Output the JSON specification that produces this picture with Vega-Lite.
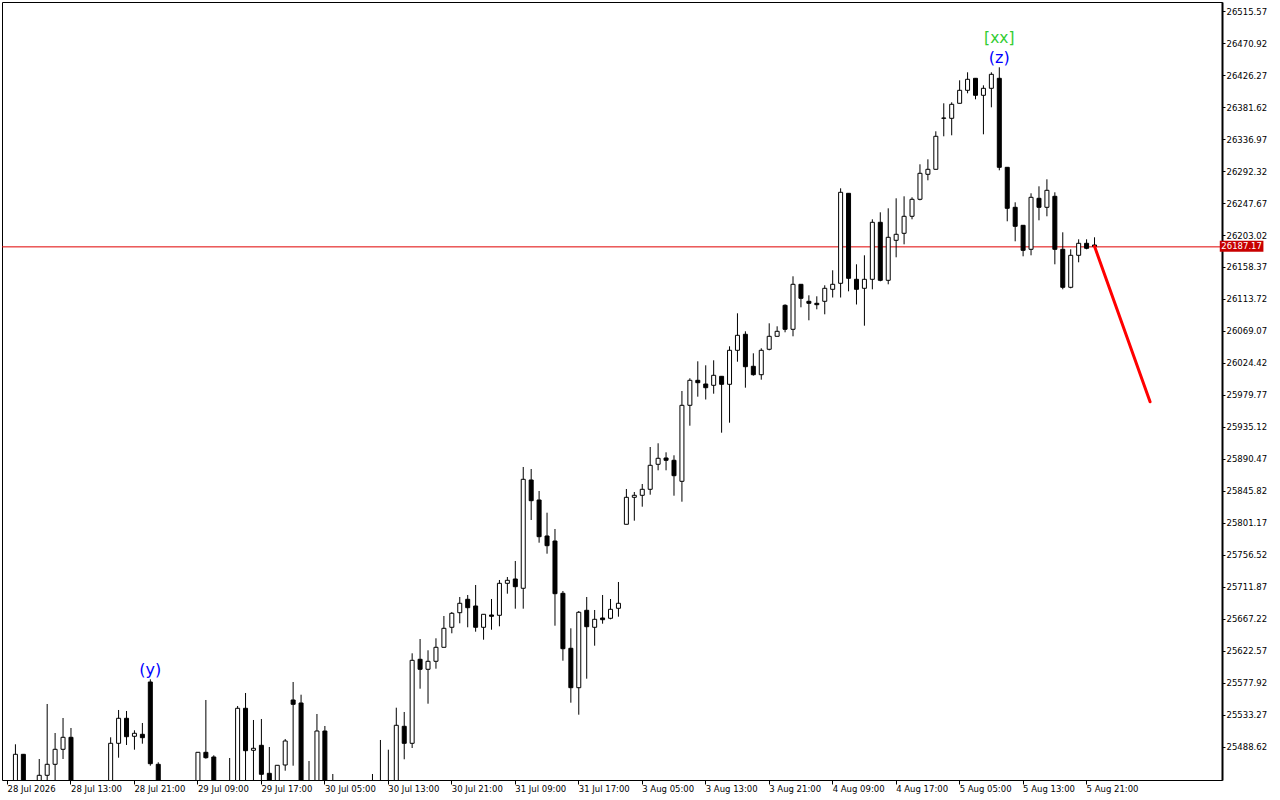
{
  "$schema": "https://vega.github.io/schema/vega-lite/v6.json",
  "width": 1220,
  "height": 778,
  "autosize": {"type": "none"},
  "padding": {"left": 2, "top": 2, "right": 58, "bottom": 20},
  "background": "white",
  "config": {
    "view": {"stroke": "black", "strokeWidth": 1},
    "font": "DejaVu Sans",
    "axis": {"grid": false, "labelFont": "DejaVu Sans", "labelFontSize": 8.5, "labelColor": "black", "tickColor": "black", "labelOverlap": false, "labelFlush": false, "labelOffset": 0, "labelBound": false, "labelSeparation": 0},
    "axisX": {"domain": false, "labelAlign": "left", "labelPadding": 0, "tickSize": 4, "labelBaseline": "top"},
    "axisY": {"labelPadding": 1, "tickSize": 3, "labelAlign": "left", "labelBaseline": "middle", "domain": true, "domainColor": "black", "domainWidth": 2}
  },
  "datasets": {
    "candles": [
      {"i":0,"o":25425,"h":25436,"l":25410,"c":25432},
      {"i":1,"o":25428.6,"h":25492.39,"l":25414.7,"c":25478.43},
      {"i":2,"o":25478.43,"h":25478.85,"l":25410,"c":25425.8},
      {"i":3,"o":25420,"h":25438,"l":25412,"c":25432},
      {"i":4,"o":25428.6,"h":25471.88,"l":25414.7,"c":25449.13},
      {"i":5,"o":25449.13,"h":25548.62,"l":25421.6,"c":25464.48},
      {"i":6,"o":25464.48,"h":25508.15,"l":25428.6,"c":25485.41},
      {"i":7,"o":25485.41,"h":25529.08,"l":25471.88,"c":25502.15},
      {"i":8,"o":25502.15,"h":25515.13,"l":25407.6,"c":25421.6},
      {"i":9,"o":25430,"h":25438,"l":25410,"c":25422},
      {"i":10,"o":25424,"h":25437,"l":25412,"c":25430},
      {"i":11,"o":25431,"h":25439,"l":25415,"c":25426},
      {"i":12,"o":25426,"h":25436,"l":25411,"c":25433},
      {"i":13,"o":25428.6,"h":25502.15,"l":25414.7,"c":25493.78},
      {"i":14,"o":25493.78,"h":25540.25,"l":25473.69,"c":25528.67},
      {"i":15,"o":25528.67,"h":25538.85,"l":25491.41,"c":25502.99},
      {"i":16,"o":25503.55,"h":25511.92,"l":25484.85,"c":25507.74},
      {"i":17,"o":25506.34,"h":25522.11,"l":25493.22,"c":25501.6},
      {"i":18,"o":25579.32,"h":25583.08,"l":25462.53,"c":25465.32,"wave":"(y)"},
      {"i":19,"o":25464.48,"h":25467.27,"l":25407.6,"c":25421.6},
      {"i":20,"o":25425,"h":25437,"l":25410,"c":25431},
      {"i":21,"o":25431,"h":25438,"l":25414,"c":25424},
      {"i":22,"o":25424,"h":25436,"l":25409,"c":25430},
      {"i":23,"o":25430,"h":25439,"l":25415,"c":25428},
      {"i":24,"o":25428.6,"h":25481.3,"l":25414.7,"c":25481.22},
      {"i":25,"o":25481.22,"h":25554.2,"l":25472.3,"c":25473.69},
      {"i":26,"o":25474.67,"h":25477.04,"l":25407.6,"c":25421.6},
      {"i":27,"o":25422,"h":25438,"l":25410,"c":25430},
      {"i":28,"o":25421.6,"h":25473.27,"l":25407.6,"c":25435.6},
      {"i":29,"o":25428.6,"h":25545.83,"l":25414.7,"c":25542.62},
      {"i":30,"o":25542.62,"h":25563.97,"l":25421.6,"c":25483.46},
      {"i":31,"o":25484.02,"h":25526.29,"l":25428.6,"c":25486.81},
      {"i":32,"o":25490.99,"h":25527.69,"l":25428.6,"c":25450.53},
      {"i":33,"o":25451.92,"h":25488.62,"l":25414.7,"c":25425.8},
      {"i":34,"o":25428.6,"h":25463.1,"l":25414.7,"c":25463.09},
      {"i":35,"o":25463.5,"h":25499.78,"l":25455.55,"c":25496.99},
      {"i":36,"o":25554.2,"h":25579.32,"l":25462.53,"c":25548.2},
      {"i":37,"o":25550.01,"h":25561.6,"l":25407.6,"c":25421.6},
      {"i":38,"o":25435.6,"h":25469.09,"l":25414.7,"c":25428.6},
      {"i":39,"o":25428.6,"h":25534.67,"l":25414.7,"c":25510.94},
      {"i":40,"o":25510.94,"h":25517.92,"l":25407.6,"c":25421.6},
      {"i":41,"o":25435.6,"h":25450.95,"l":25414.7,"c":25425.8},
      {"i":42,"o":25426,"h":25437,"l":25412,"c":25432},
      {"i":43,"o":25432,"h":25439,"l":25416,"c":25425},
      {"i":44,"o":25425,"h":25436,"l":25410,"c":25430},
      {"i":45,"o":25430,"h":25438,"l":25413,"c":25427},
      {"i":46,"o":25425,"h":25450.95,"l":25412,"c":25435},
      {"i":47,"o":25430,"h":25498.39,"l":25415,"c":25436},
      {"i":48,"o":25428,"h":25484.85,"l":25416,"c":25438},
      {"i":49,"o":25428.6,"h":25543.46,"l":25414.7,"c":25518.9},
      {"i":50,"o":25517.5,"h":25537.46,"l":25471.46,"c":25493.78},
      {"i":51,"o":25493.78,"h":25619.36,"l":25487.2,"c":25609.59},
      {"i":52,"o":25610.99,"h":25639.31,"l":25569.97,"c":25597.04},
      {"i":53,"o":25597.04,"h":25623.55,"l":25549.04,"c":25608.2},
      {"i":54,"o":25608.2,"h":25640.29,"l":25597.87,"c":25627.73},
      {"i":55,"o":25627.73,"h":25671.41,"l":25627.7,"c":25654.24},
      {"i":56,"o":25655.64,"h":25676.99,"l":25647.27,"c":25675.17},
      {"i":57,"o":25676.01,"h":25697.92,"l":25661.22,"c":25689.13},
      {"i":58,"o":25694.71,"h":25700.71,"l":25655.64,"c":25682.99},
      {"i":59,"o":25685.36,"h":25714.66,"l":25649.5,"c":25655.64},
      {"i":60,"o":25655.64,"h":25673.8,"l":25638.34,"c":25673.78},
      {"i":61,"o":25672.8,"h":25695.13,"l":25652.29,"c":25670.99},
      {"i":62,"o":25672.38,"h":25721.64,"l":25657.03,"c":25717.03},
      {"i":63,"o":25717.03,"h":25725.82,"l":25702.52,"c":25721.22},
      {"i":64,"o":25723.03,"h":25748.15,"l":25681.59,"c":25712.29},
      {"i":65,"o":25710.06,"h":25879.31,"l":25681.59,"c":25862.14},
      {"i":66,"o":25861.17,"h":25876.52,"l":25805.36,"c":25832.29},
      {"i":67,"o":25833.26,"h":25845.82,"l":25773.68,"c":25782.05},
      {"i":68,"o":25783.03,"h":25815.54,"l":25758.33,"c":25769.5},
      {"i":69,"o":25776.05,"h":25792.8,"l":25657.87,"c":25702.52},
      {"i":70,"o":25703.08,"h":25706.29,"l":25609.04,"c":25625.78},
      {"i":71,"o":25626.34,"h":25654.24,"l":25550.43,"c":25571.36},
      {"i":72,"o":25571.36,"h":25678.38,"l":25533.69,"c":25676.57},
      {"i":73,"o":25679.36,"h":25697.92,"l":25583.92,"c":25656.48},
      {"i":74,"o":25655.64,"h":25679.78,"l":25629.97,"c":25666.8},
      {"i":75,"o":25668.62,"h":25700.71,"l":25660.66,"c":25666.24},
      {"i":76,"o":25668.2,"h":25695.13,"l":25666.8,"c":25680.75},
      {"i":77,"o":25682.15,"h":25718.85,"l":25670.43,"c":25689.13},
      {"i":78,"o":25799.36,"h":25848.61,"l":25799.36,"c":25837.03},
      {"i":79,"o":25837.03,"h":25844.42,"l":25804.38,"c":25839.82},
      {"i":80,"o":25839.82,"h":25855.59,"l":25823.91,"c":25848.19},
      {"i":81,"o":25848.19,"h":25907.21,"l":25840.66,"c":25881.68},
      {"i":82,"o":25883.07,"h":25912.38,"l":25874.7,"c":25891.45},
      {"i":83,"o":25891.87,"h":25899.82,"l":25874.7,"c":25888.66},
      {"i":84,"o":25888.66,"h":25895.63,"l":25839.26,"c":25867.17},
      {"i":85,"o":25859.35,"h":25985.35,"l":25830.89,"c":25965.4},
      {"i":86,"o":25965.4,"h":26003.07,"l":25936.93,"c":26000.28},
      {"i":87,"o":26000.28,"h":26026.79,"l":25977.4,"c":25996.93},
      {"i":88,"o":25995.12,"h":26021.21,"l":25973.49,"c":25989.96},
      {"i":89,"o":25993.3,"h":26028.19,"l":25981.58,"c":26007.26},
      {"i":90,"o":26005.86,"h":26005.9,"l":25927.17,"c":25994.7},
      {"i":91,"o":25994.7,"h":26047.72,"l":25941.12,"c":26042.14},
      {"i":92,"o":26042.14,"h":26093.77,"l":26026.23,"c":26063.07},
      {"i":93,"o":26064.47,"h":26068.65,"l":25989.96,"c":26019.26},
      {"i":94,"o":26019.82,"h":26037.95,"l":26006.7,"c":26008.1},
      {"i":95,"o":26008.1,"h":26044.93,"l":26001.12,"c":26042.14},
      {"i":96,"o":26043.54,"h":26079.81,"l":26042.14,"c":26061.67},
      {"i":97,"o":26061.67,"h":26075.63,"l":26061.67,"c":26068.65},
      {"i":98,"o":26104.93,"h":26106.32,"l":26067.26,"c":26071.44},
      {"i":99,"o":26071.44,"h":26145.39,"l":26061.67,"c":26134.23},
      {"i":100,"o":26134.23,"h":26134.3,"l":26102.14,"c":26114.7},
      {"i":101,"o":26110.51,"h":26118.88,"l":26084.0,"c":26107.72},
      {"i":102,"o":26107.72,"h":26117.49,"l":26099.35,"c":26105.77},
      {"i":103,"o":26110.51,"h":26132.84,"l":26092.37,"c":26128.65},
      {"i":104,"o":26127.25,"h":26153.77,"l":26115.81,"c":26134.23},
      {"i":105,"o":26135.63,"h":26268.18,"l":26115.81,"c":26262.6},
      {"i":106,"o":26261.2,"h":26261.3,"l":26124.46,"c":26142.6},
      {"i":107,"o":26141.21,"h":26162.14,"l":26106.05,"c":26127.25},
      {"i":108,"o":26128.65,"h":26174.69,"l":26076.47,"c":26141.21},
      {"i":109,"o":26141.21,"h":26224.93,"l":26127.25,"c":26220.74},
      {"i":110,"o":26220.74,"h":26234.69,"l":26138.42,"c":26139.81},
      {"i":111,"o":26139.81,"h":26240.27,"l":26134.23,"c":26199.81},
      {"i":112,"o":26195.62,"h":26254.23,"l":26171.9,"c":26204.0},
      {"i":113,"o":26205.39,"h":26257.02,"l":26190.04,"c":26229.11},
      {"i":114,"o":26229.11,"h":26255.62,"l":26224.93,"c":26252.83},
      {"i":115,"o":26252.83,"h":26301.67,"l":26251.44,"c":26289.11},
      {"i":116,"o":26287.72,"h":26308.64,"l":26279.34,"c":26294.69},
      {"i":117,"o":26294.69,"h":26347.71,"l":26294.6,"c":26340.74},
      {"i":118,"o":26365.85,"h":26386.78,"l":26340.74,"c":26366.27},
      {"i":119,"o":26365.85,"h":26388.18,"l":26342.13,"c":26385.39},
      {"i":120,"o":26386.78,"h":26418.87,"l":26386.7,"c":26404.92},
      {"i":121,"o":26404.92,"h":26430.04,"l":26400.74,"c":26420.27},
      {"i":122,"o":26421.67,"h":26422.08,"l":26392.36,"c":26397.94},
      {"i":123,"o":26397.94,"h":26411.9,"l":26343.53,"c":26407.71},
      {"i":124,"o":26407.71,"h":26430.04,"l":26381.2,"c":26427.25},
      {"i":125,"o":26421.67,"h":26437.01,"l":26293.3,"c":26297.48,"wave":"(z)","degree":"[xx]"},
      {"i":126,"o":26297.48,"h":26297.5,"l":26222.14,"c":26240.27},
      {"i":127,"o":26241.67,"h":26248.65,"l":26194.23,"c":26215.16},
      {"i":128,"o":26216.55,"h":26216.97,"l":26173.3,"c":26181.67},
      {"i":129,"o":26183.07,"h":26261.2,"l":26174.69,"c":26255.62},
      {"i":130,"o":26254.23,"h":26270.97,"l":26223.53,"c":26241.67},
      {"i":131,"o":26241.67,"h":26280.74,"l":26229.11,"c":26265.39},
      {"i":132,"o":26257.02,"h":26262.6,"l":26162.14,"c":26183.07},
      {"i":133,"o":26183.07,"h":26206.79,"l":26127.25,"c":26130.04},
      {"i":134,"o":26130.04,"h":26183.07,"l":26128.65,"c":26174.69},
      {"i":135,"o":26174.69,"h":26197.02,"l":26164.93,"c":26191.44},
      {"i":136,"o":26191.44,"h":26197.02,"l":26183.07,"c":26184.46},
      {"i":137,"o":26189.07,"h":26199.81,"l":26183.5,"c":26187.17}
    ],
    "trend": [
      {"i": 137, "p": 26187.17},
      {"i": 144, "p": 25970.4}
    ]
  },
  "encoding": {
    "x": {
      "field": "i", "type": "quantitative",
      "scale": {"domain": [0, 152.5], "nice": false, "zero": false},
      "axis": {
        "orient": "bottom", "title": null, "labelOverlap": false,
        "values": [0,8,16,24,32,40,48,56,64,72,80,88,96,104,112,120,128,136],
        "labelExpr": "['28 Jul 2026','28 Jul 13:00','28 Jul 21:00','29 Jul 09:00','29 Jul 17:00','30 Jul 05:00','30 Jul 13:00','30 Jul 21:00','31 Jul 09:00','31 Jul 17:00','3 Aug 05:00','3 Aug 13:00','3 Aug 21:00','4 Aug 09:00','4 Aug 17:00','5 Aug 05:00','5 Aug 13:00','5 Aug 21:00'][round(datum.value/8)]"
      }
    },
    "y": {
      "field": "l", "type": "quantitative",
      "scale": {"domain": [25442.57, 26528.13], "nice": false, "zero": false},
      "axis": {
        "orient": "right", "title": null, "labelOverlap": false,
        "values": [25488.62,25533.27,25577.92,25622.57,25667.22,25711.87,25756.52,25801.17,25845.82,25890.47,25935.12,25979.77,26024.42,26069.07,26113.72,26158.37,26203.02,26247.67,26292.32,26336.97,26381.62,26426.27,26470.92,26515.57],
        "format": ".2f"
      }
    }
  },
  "layer": [
    {
      "data": {"name": "candles"},
      "transform": [{"filter": "datum.i == 137"}],
      "mark": {"type": "rule", "color": "#e00000", "strokeWidth": 1, "yOffset": 0.5},
      "encoding": {
        "x": null,
        "y": {"field": "c", "type": "quantitative"}
      }
    },
    {
      "data": {"name": "candles"},
      "mark": {"type": "rule", "color": "black", "strokeWidth": 1, "xOffset": 0.5, "clip": true},
      "encoding": {
        "y2": {"field": "h"}
      }
    },
    {
      "data": {"name": "candles"},
      "mark": {"type": "bar", "width": 4, "stroke": "black", "strokeWidth": 1, "xOffset": 0.5, "clip": true},
      "encoding": {
        "y": {"field": "o", "type": "quantitative"},
        "y2": {"field": "c"},
        "fill": {"condition": {"test": "datum.c < datum.o", "value": "black"}, "value": "white"}
      }
    },
    {
      "data": {"name": "trend"},
      "mark": {"type": "line", "color": "#ff0000", "strokeWidth": 3, "strokeCap": "round", "xOffset": 0.5},
      "encoding": {
        "y": {"field": "p", "type": "quantitative"}
      }
    },
    {
      "data": {"name": "candles"},
      "transform": [{"filter": "datum.wave"}],
      "mark": {"type": "text", "color": "#0000ff", "font": "DejaVu Sans", "fontSize": 16, "baseline": "middle", "dy": -9.5, "dx": 0.5},
      "encoding": {
        "y": {"field": "h", "type": "quantitative"},
        "text": {"field": "wave"}
      }
    },
    {
      "data": {"name": "candles"},
      "transform": [{"filter": "datum.degree"}],
      "mark": {"type": "text", "color": "#32cd32", "font": "DejaVu Sans", "fontSize": 15.5, "baseline": "middle", "dy": -29.5, "dx": 0.5},
      "encoding": {
        "y": {"field": "h", "type": "quantitative"},
        "text": {"field": "degree"}
      }
    },
    {
      "data": {"name": "candles"},
      "transform": [{"filter": "datum.i == 137"}],
      "mark": {"type": "rect", "color": "#c80000", "clip": false},
      "encoding": {
        "x": {"datum": 152.85, "type": "quantitative"},
        "x2": {"datum": 158.35},
        "y": {"datum": 26195.07, "type": "quantitative"},
        "y2": {"datum": 26179.72}
      }
    },
    {
      "data": {"name": "candles"},
      "transform": [{"filter": "datum.i == 137"}],
      "mark": {"type": "text", "color": "white", "font": "DejaVu Sans", "fontSize": 8.5, "align": "left", "baseline": "middle", "clip": false},
      "encoding": {
        "x": {"datum": 153.05, "type": "quantitative"},
        "y": {"field": "c", "type": "quantitative"},
        "text": {"field": "c", "type": "quantitative", "format": ".2f"}
      }
    }
  ]
}
